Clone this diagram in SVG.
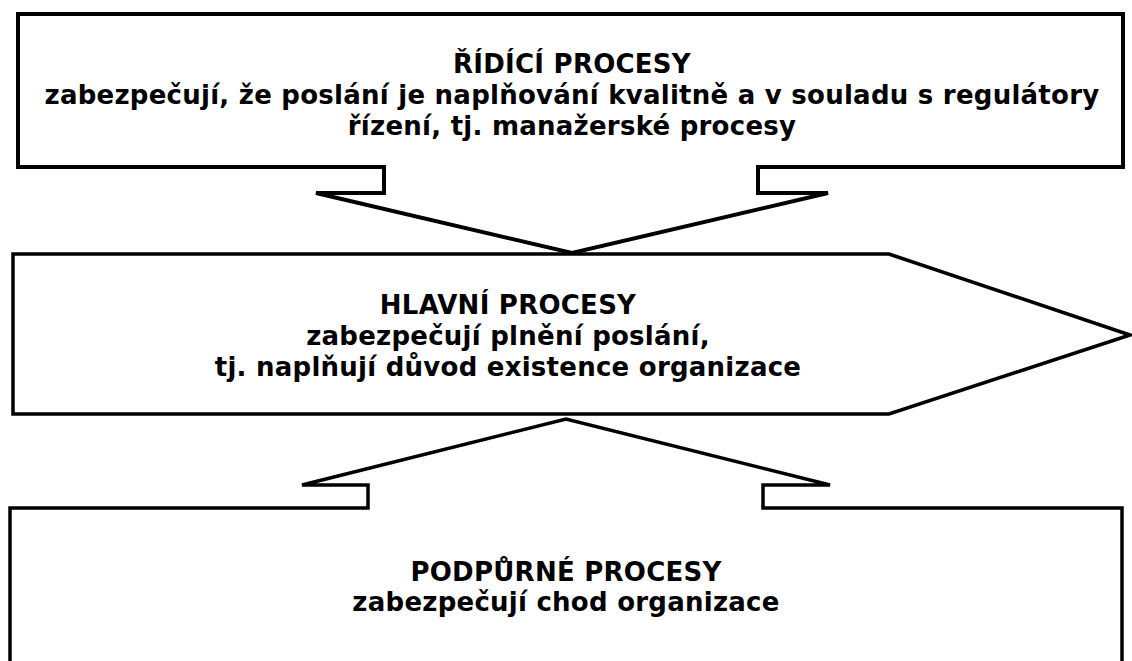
<svg xmlns="http://www.w3.org/2000/svg" width="1132" height="661" viewBox="0 0 1132 661">
  <style>
    .shape { fill: #ffffff; stroke: #000000; stroke-width: 3.5; stroke-linejoin: miter; }
    .heavy { stroke-width: 4; }
    .label { font-family: "DejaVu Sans", "Liberation Sans", sans-serif; font-weight: bold; font-size: 26px; letter-spacing: 0.25px; fill: #000000; text-anchor: middle; }
  </style>
  <rect width="1132" height="661" fill="#ffffff"/>

  <!-- management processes: box with a down-pointing arrow -->
  <g id="ridici-procesy">
    <path class="shape heavy" d="M18,14 H1123 V167 H758 V193 H828 L572,253 L316,193 H384 V167 H18 Z"/>
    <text class="label" x="572" y="73">ŘÍDÍCÍ PROCESY</text>
    <text class="label" x="572" y="104">zabezpečují, že poslání je naplňování kvalitně a v souladu s regulátory</text>
    <text class="label" x="572" y="135">řízení, tj. manažerské procesy</text>
  </g>

  <!-- core processes: pentagon arrow pointing right -->
  <g id="hlavni-procesy">
    <path class="shape" d="M13,254 H889 L1130,335 L889,414 H13 Z"/>
    <text class="label" x="508" y="314">HLAVNÍ PROCESY</text>
    <text class="label" x="508" y="345">zabezpečují plnění poslání,</text>
    <text class="label" x="508" y="376">tj. naplňují důvod existence organizace</text>
  </g>

  <!-- support processes: box with an up-pointing arrow -->
  <g id="podpurne-procesy">
    <path class="shape" d="M10,668 V508 H368 V485 H302 L566,419 L830,485 H763 V508 H1122 V668"/>
    <text class="label" x="566" y="581">PODPŮRNÉ PROCESY</text>
    <text class="label" x="566" y="611">zabezpečují chod organizace</text>
  </g>

  <g id="connectors"></g>
</svg>
